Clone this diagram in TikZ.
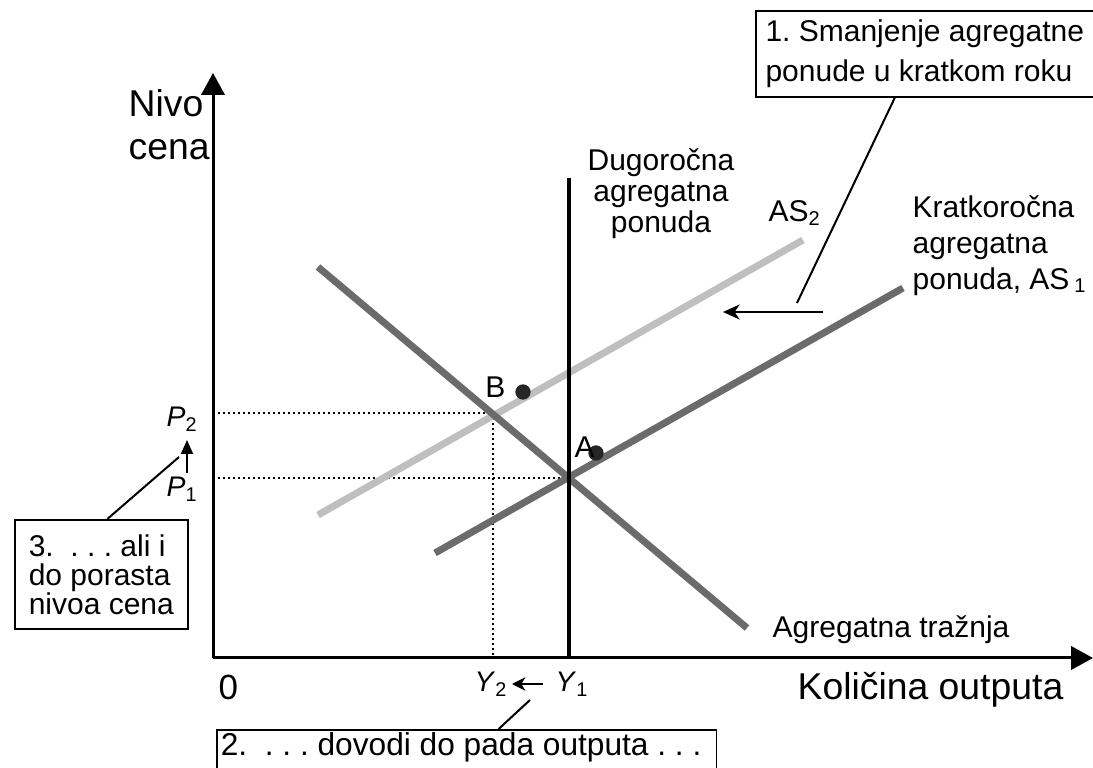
\documentclass[tikz,border=0pt]{standalone}
\usepackage{fontspec}
\setmainfont{Liberation Sans}
\usetikzlibrary{arrows.meta, positioning, calc}

\begin{document}
\frenchspacing
\begin{tikzpicture}[
        x=0.3pt, y=-0.3pt,
        axis/.style={line width=0.9pt, -{Triangle[width=7pt,length=6.6pt]}},
        curve/.style={line width=2.1pt},
        darkcurve/.style={curve, draw=black!58},
        lightcurve/.style={curve, draw=black!25},
        guide/.style={densely dotted, line width=0.5pt},
        callout/.style={rectangle, draw, line width=0.5pt, align=left, inner sep=0pt},
        pointer/.style={line width=0.6pt},
        shiftarrow/.style={line width=0.7pt, -{Stealth[length=5pt,width=4.5pt,inset=1.5pt]}},
        lbl/.style={font=\fontsize{9}{10.8}\selectfont, inner sep=0pt, align=left},
        biglbl/.style={font=\fontsize{11.2}{12.9}\selectfont, inner sep=0pt, align=left},
        varlbl/.style={font=\fontsize{8.5}{10}\selectfont, inner sep=0pt},
        dot/.style={circle, fill=black!85, minimum size=4.6pt, inner sep=0pt}
    ]
        \useasboundingbox (0,0) rectangle (1093,768);

        % axes
        \coordinate (O) at (213,658);
        \coordinate (ytop) at (213,73);
        \coordinate (xend) at (1093,658);
        \coordinate (lrtop) at (569,178);
        \coordinate (lrbot) at (569,658);

        % guide lines for P and Y
        \coordinate (E1) at (569,478);
        \coordinate (E2) at (493,413);
        \draw [guide] (E2 -| O) -- (E2) -- (E2 |- O);
        \draw [guide] (E1 -| O) -- (E1);

        % curves
        \draw [lightcurve] (318,515) -- (803,240);
        \draw [darkcurve] (435,553) -- (903,288);
        \draw [darkcurve] (318,267) -- (747,628);
        \draw [line width=1.1pt] (lrtop) -- (lrbot);

        \draw [axis] (O) -- (ytop);
        \draw [axis] (O) -- (xend);

        % points
        \node (ptB) [dot] at (523,392) {};
        \node (ptA) [dot] at (596,453) {};
        \node (labB) [lbl, anchor=base east] at (506,398) {B};
        \node (labA) [lbl, anchor=base west] at (574,458) {A};

        % axis texts
        \node (ylabel) [biglbl, anchor=north west] at (128,89) {Nivo\\[-0.2pt]cena};
        \node (xlabel) [biglbl, anchor=base west] at (797,700) {Količina outputa};
        \node (zero) [font=\fontsize{10.5}{12}\selectfont, inner sep=0pt, anchor=base west] at (218,700) {0};

        % curve texts
        \node (lras) [lbl, anchor=north, align=center, font=\fontsize{9}{9.3}\selectfont] at (661,148) {Dugoročna\\agregatna\\ponuda};
        \node (astwo) [lbl, anchor=base west] at (768,222) {AS\textsubscript{2}};
        \node (asone) [lbl, anchor=north west] at (912,195) {Kratkoročna\\agregatna\\ponuda, AS\,\textsubscript{1}};
        \node (ad) [lbl, anchor=base west] at (772,638) {Agregatna tražnja};

        % P and Y
        \node (ptwo) [varlbl, anchor=base west] at (166,427) {\textit{P}\textsubscript{2}};
        \node (pone) [varlbl, anchor=base west] at (166,497) {\textit{P}\textsubscript{1}};
        \coordinate (plow) at (187,473);
        \coordinate (phigh) at (187,440);
        \draw [pointer, -{Triangle[width=3.6pt,length=4.2pt]}] (plow) -- (phigh);

        \node (ytwo) [varlbl, anchor=base west] at (474,692) {\textit{Y}\textsubscript{2}};
        \node (yone) [varlbl, anchor=base west] at (555,692) {\textit{Y}\textsubscript{1}};
        \coordinate (yright) at (543,684);
        \coordinate (yleft) at (512,684);
        \draw [pointer, -{Stealth[length=4pt,width=4pt,inset=1.2pt]}] (yright) -- (yleft);

        % notes
        \node (note1) [callout, anchor=north west, minimum width=101.4pt, minimum height=25.8pt,
            font=\fontsize{9}{12}\selectfont] at (755,10)
            {1. Smanjenje agregatne\\ponude u kratkom roku};
        \coordinate (tip1) at (797,303);
        \draw [pointer] ($(note1.south)+(-30,0)$) -- (tip1);
        \coordinate (shiftR) at (823,312);
        \coordinate (shiftL) at (723,312);
        \draw [shiftarrow] (shiftR) -- (shiftL);

        \node (note2) [callout, anchor=north west, text depth=12pt,
            inner xsep=1.2pt, inner ysep=0.8pt, font=\fontsize{9.5}{11}\selectfont] at (216,729)
            {\makebox[147.5pt][l]{2.\ \ .\ .\ .\ dovodi do pada outputa .\ .\ .}};
        \coordinate (tip2) at (530,700);
        \draw [pointer] ($(note2.north)+(32,0)$) -- (tip2);

        \node (note3) [callout, anchor=north west, minimum width=51.9pt, minimum height=32.7pt,
            font=\fontsize{9}{8.7}\selectfont] at (14,519)
            {3.\ \ .\ .\ .\ ali i\\do porasta\\nivoa cena};
        \coordinate (tip3) at (179,457);
        \draw [pointer] ($(note3.north)+(6,0)$) -- (tip3);
    \end{tikzpicture}
\end{document}
